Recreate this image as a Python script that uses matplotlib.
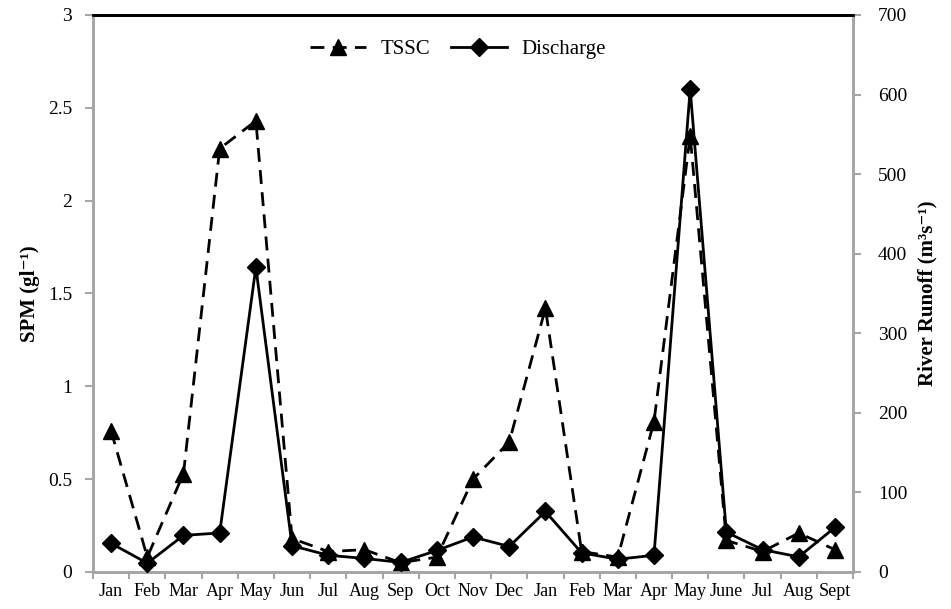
import matplotlib
matplotlib.use("Agg")
import matplotlib.pyplot as plt
import numpy as np

months = ["Jan", "Feb", "Mar", "Apr", "May", "Jun", "Jul", "Aug", "Sep", "Oct", "Nov", "Dec",
          "Jan", "Feb", "Mar", "Apr", "May", "June", "Jul", "Aug", "Sept"]
tssc = [0.76, 0.08, 0.53, 2.28, 2.43, 0.18, 0.11, 0.12, 0.05, 0.08, 0.50, 0.70,
        1.42, 0.11, 0.08, 0.81, 2.35, 0.17, 0.11, 0.21, 0.12]
discharge = [36, 11, 46, 49, 383, 33, 21, 17, 12, 27, 44, 32,
             76, 24, 16, 21, 607, 50, 28, 19, 56]

plt.rcParams['font.family'] = ['Liberation Serif', 'DejaVu Serif']

fig = plt.figure(figsize=(9.51, 6.09), dpi=100)
ax = fig.add_axes([0.0978, 0.0608, 0.7992, 0.9146])
ax2 = ax.twinx()

x = np.arange(len(months))
gray = '#a6a6a6'

l1, = ax.plot(x, tssc, color='black', lw=2.0, linestyle=(0, (5, 3)),
              marker='^', markersize=11, markerfacecolor='black', markeredgecolor='black',
              label='TSSC', zorder=3)
l2, = ax2.plot(x, discharge, color='black', lw=2.0, linestyle='-',
               marker='D', markersize=9, markerfacecolor='black', markeredgecolor='black',
               label='Discharge', zorder=3)

ax.set_xlim(-0.5, len(months) - 0.5)
ax.set_ylim(0, 3)
ax2.set_ylim(0, 700)
ax.set_yticks([0, 0.5, 1, 1.5, 2, 2.5, 3])
ax.set_yticklabels(['0', '0.5', '1', '1.5', '2', '2.5', '3'])
ax2.set_yticks(np.arange(0, 701, 100))

ax.set_xticks(x)
ax.set_xticklabels(months)
ax.set_xticks(np.arange(-0.5, len(months), 1), minor=True)
ax.tick_params(axis='x', which='major', length=0, labelsize=13, pad=8)
ax.tick_params(axis='x', which='minor', length=5, width=1.5, color=gray, direction='out')
ax.tick_params(axis='y', length=6, width=1.5, color=gray, direction='out', labelsize=14, pad=9)
ax2.tick_params(axis='y', length=6, width=1.5, color=gray, direction='out', labelsize=14, pad=12)

for a in (ax, ax2):
    for s in ('left', 'right', 'bottom'):
        a.spines[s].set_color(gray)
        a.spines[s].set_linewidth(2)
    a.spines['top'].set_color('black')
    a.spines['top'].set_linewidth(2)

ax.set_ylabel('SPM (gl\u207b\u00b9)', fontsize=15, fontweight='bold', labelpad=6)
ax2.set_ylabel('River Runoff (m\u00b3s\u207b\u00b9)', fontsize=15, fontweight='bold', labelpad=7)

ax.legend(handles=[l1, l2], loc='upper center', bbox_to_anchor=(0.48, 0.99), ncol=2,
          frameon=False, fontsize=15, handlelength=2.7, columnspacing=1.0, handletextpad=0.7)

fig.savefig('out.png', dpi=100)
